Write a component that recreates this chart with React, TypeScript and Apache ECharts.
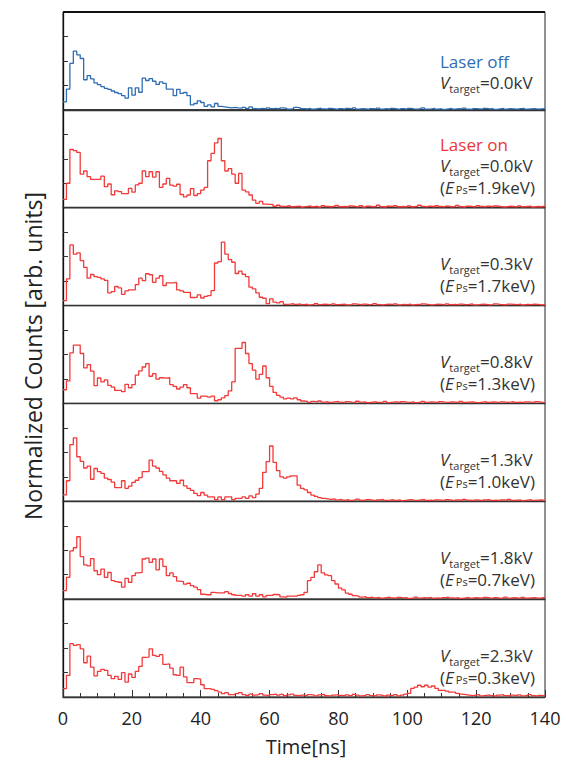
import React, { useEffect, useRef } from 'react';
import * as echarts from 'echarts';

// ---------------- data (normalized counts, 1 ns bins, 0..140 ns) ----------------
const timeMin = 0;
const timeMax = 140;
const xTickStep = 20;

const countsLaserOff = [
  0.33, 0.85, 1.90, 2.40, 2.25, 2.10, 1.23, 1.40, 1.27, 1.10,
  1.03, 0.95, 0.88, 0.84, 0.77, 0.71, 0.66, 0.58, 0.48, 0.90,
  0.60, 0.90, 0.72, 1.30, 1.20, 1.28, 1.17, 1.04, 1.14, 1.08,
  0.85, 0.85, 0.58, 0.84, 0.67, 0.71, 0.58, 0.20, 0.26, 0.37,
  0.30, 0.14, 0.20, 0.12, 0.26, 0.14, 0.12, 0.10, 0.08, 0.10,
  0.08, 0.07, 0.10, 0.06, 0.12, 0.05, 0.04, 0.06, 0.04, 0.08,
  0.05, 0.06, 0.04, 0.08, 0.06, 0.03, 0.05, 0.10, 0.08, 0.05,
  0.04, 0.06, 0.03, 0.05, 0.07, 0.04, 0.03, 0.06, 0.04, 0.02,
  0.05, 0.03, 0.06, 0.04, 0.08, 0.03, 0.05, 0.04, 0.02, 0.05,
  0.04, 0.07, 0.03, 0.05, 0.03, 0.06, 0.04, 0.02, 0.05, 0.03,
  0.06, 0.04, 0.03, 0.05, 0.08, 0.03, 0.04, 0.06, 0.03, 0.05,
  0.02, 0.04, 0.06, 0.03, 0.05, 0.04, 0.07, 0.03, 0.02, 0.05,
  0.04, 0.03, 0.06, 0.04, 0.05, 0.02, 0.04, 0.06, 0.03, 0.05,
  0.04, 0.03, 0.05, 0.06, 0.03, 0.04, 0.05, 0.03, 0.04, 0.05,
];

const countsV00 = [
  0.34, 1.00, 2.38, 2.33, 2.26, 1.37, 1.50, 1.27, 1.16, 1.16,
  1.16, 1.29, 0.86, 0.97, 0.53, 0.69, 0.66, 0.58, 0.58, 0.79,
  0.64, 0.93, 1.00, 1.50, 1.27, 1.47, 1.25, 1.47, 0.83, 0.97,
  1.20, 0.92, 0.88, 0.96, 0.54, 0.44, 0.52, 0.78, 0.50, 0.58,
  0.72, 0.83, 1.92, 2.22, 2.65, 2.83, 1.92, 1.50, 1.60, 1.37,
  1.00, 1.40, 0.72, 0.65, 0.52, 0.31, 0.18, 0.26, 0.15, 0.14,
  0.14, 0.06, 0.10, 0.05, 0.06, 0.08, 0.04, 0.05, 0.06, 0.03,
  0.05, 0.07, 0.04, 0.06, 0.03, 0.08, 0.05, 0.04, 0.06, 0.09,
  0.04, 0.05, 0.03, 0.07, 0.05, 0.04, 0.08, 0.03, 0.06, 0.04,
  0.05, 0.10, 0.04, 0.03, 0.06, 0.05, 0.08, 0.04, 0.05, 0.03,
  0.07, 0.04, 0.06, 0.10, 0.05, 0.03, 0.06, 0.04, 0.08, 0.05,
  0.03, 0.06, 0.04, 0.05, 0.09, 0.04, 0.03, 0.06, 0.05, 0.04,
  0.08, 0.05, 0.03, 0.06, 0.04, 0.07, 0.05, 0.03, 0.04, 0.06,
  0.05, 0.03, 0.07, 0.04, 0.05, 0.06, 0.03, 0.05, 0.04, 0.06,
];

const countsV03 = [
  0.20, 1.09, 2.48, 2.10, 2.15, 1.84, 1.56, 1.12, 1.27, 1.18,
  1.15, 1.09, 1.03, 0.52, 0.57, 0.78, 0.72, 0.46, 0.60, 0.64,
  0.64, 0.86, 1.12, 1.02, 1.30, 1.26, 0.95, 1.12, 1.22, 0.82,
  0.93, 0.93, 0.95, 0.64, 0.60, 0.54, 0.54, 0.33, 0.34, 0.44,
  0.31, 0.38, 0.41, 0.61, 1.74, 1.80, 2.59, 2.10, 1.88, 1.77,
  1.31, 1.41, 1.28, 1.18, 0.75, 0.68, 0.52, 0.34, 0.30, 0.08,
  0.27, 0.14, 0.11, 0.16, 0.05, 0.06, 0.08, 0.05, 0.07, 0.04,
  0.06, 0.03, 0.05, 0.08, 0.04, 0.06, 0.05, 0.03, 0.07, 0.04,
  0.05, 0.06, 0.03, 0.04, 0.07, 0.05, 0.03, 0.06, 0.04, 0.05,
  0.08, 0.04, 0.03, 0.05, 0.06, 0.04, 0.07, 0.03, 0.05, 0.04,
  0.06, 0.03, 0.05, 0.04, 0.07, 0.05, 0.03, 0.04, 0.06, 0.05,
  0.03, 0.07, 0.04, 0.05, 0.03, 0.06, 0.04, 0.05, 0.07, 0.03,
  0.04, 0.06, 0.05, 0.03, 0.04, 0.07, 0.05, 0.04, 0.03, 0.06,
  0.05, 0.04, 0.06, 0.03, 0.05, 0.04, 0.06, 0.05, 0.03, 0.04,
];

const countsV08 = [
  0.56, 0.92, 2.07, 2.38, 2.38, 2.04, 1.45, 1.59, 1.32, 0.73,
  1.04, 0.88, 0.96, 0.74, 0.67, 0.53, 0.53, 0.48, 0.78, 0.64,
  0.77, 1.16, 1.33, 1.49, 1.63, 1.11, 1.22, 0.99, 1.05, 1.03,
  1.05, 0.77, 0.70, 0.59, 0.67, 0.77, 0.64, 0.40, 0.40, 0.22,
  0.30, 0.29, 0.26, 0.30, 0.11, 0.15, 0.23, 0.32, 0.51, 0.88,
  2.25, 2.25, 2.49, 2.04, 1.63, 1.36, 0.99, 1.19, 1.53, 1.05,
  0.70, 0.45, 0.33, 0.26, 0.19, 0.22, 0.19, 0.23, 0.15, 0.10,
  0.08, 0.04, 0.08, 0.06, 0.10, 0.05, 0.07, 0.04, 0.06, 0.08,
  0.05, 0.03, 0.07, 0.05, 0.04, 0.09, 0.05, 0.06, 0.03, 0.05,
  0.07, 0.04, 0.05, 0.08, 0.03, 0.05, 0.06, 0.04, 0.07, 0.05,
  0.04, 0.06, 0.03, 0.05, 0.08, 0.04, 0.06, 0.05, 0.03, 0.07,
  0.05, 0.04, 0.06, 0.05, 0.03, 0.08, 0.04, 0.05, 0.06, 0.04,
  0.03, 0.05, 0.07, 0.04, 0.06, 0.05, 0.03, 0.06, 0.04, 0.05,
  0.07, 0.04, 0.05, 0.03, 0.06, 0.05, 0.04, 0.07, 0.05, 0.04,
];

const countsV13 = [
  0.26, 0.84, 2.32, 2.59, 1.82, 1.63, 1.36, 1.44, 0.90, 1.34,
  1.21, 1.14, 0.95, 0.89, 0.78, 0.56, 0.56, 0.84, 0.53, 0.62,
  0.77, 0.86, 0.97, 1.21, 1.21, 1.68, 1.44, 1.36, 1.22, 1.08,
  0.95, 0.84, 0.84, 0.73, 0.86, 0.63, 0.53, 0.45, 0.32, 0.23,
  0.36, 0.25, 0.18, 0.18, 0.07, 0.18, 0.07, 0.18, 0.18, 0.07,
  0.12, 0.12, 0.18, 0.12, 0.22, 0.15, 0.29, 0.53, 1.18, 1.62,
  2.26, 1.59, 1.25, 1.00, 0.95, 1.00, 1.04, 1.04, 0.66, 0.53,
  0.47, 0.36, 0.25, 0.20, 0.15, 0.12, 0.10, 0.08, 0.10, 0.06,
  0.08, 0.05, 0.07, 0.04, 0.06, 0.09, 0.05, 0.04, 0.07, 0.05,
  0.03, 0.06, 0.08, 0.04, 0.05, 0.07, 0.04, 0.06, 0.03, 0.05,
  0.07, 0.05, 0.04, 0.06, 0.08, 0.04, 0.05, 0.03, 0.06, 0.05,
  0.04, 0.07, 0.05, 0.03, 0.06, 0.04, 0.08, 0.05, 0.04, 0.06,
  0.05, 0.03, 0.06, 0.07, 0.04, 0.05, 0.03, 0.06, 0.05, 0.08,
  0.04, 0.05, 0.06, 0.03, 0.05, 0.07, 0.04, 0.05, 0.06, 0.04,
];

const countsV18 = [
  0.35, 0.89, 1.97, 2.10, 2.55, 1.74, 1.40, 1.36, 1.66, 1.16,
  1.00, 1.23, 0.89, 1.09, 0.76, 0.72, 0.69, 0.49, 0.85, 0.69,
  0.96, 1.07, 1.09, 1.64, 1.68, 1.50, 1.64, 1.20, 1.64, 1.34,
  0.96, 1.07, 0.92, 0.74, 0.72, 0.61, 0.65, 0.55, 0.49, 0.39,
  0.20, 0.18, 0.18, 0.28, 0.26, 0.26, 0.26, 0.31, 0.23, 0.18,
  0.15, 0.15, 0.12, 0.18, 0.12, 0.22, 0.12, 0.18, 0.09, 0.15,
  0.15, 0.19, 0.18, 0.09, 0.08, 0.12, 0.12, 0.12, 0.15, 0.18,
  0.28, 0.76, 0.89, 1.12, 1.40, 1.07, 0.99, 0.96, 0.76, 0.62,
  0.45, 0.38, 0.25, 0.20, 0.14, 0.12, 0.08, 0.10, 0.06, 0.08,
  0.05, 0.07, 0.04, 0.06, 0.08, 0.05, 0.04, 0.07, 0.05, 0.06,
  0.03, 0.05, 0.08, 0.04, 0.06, 0.05, 0.07, 0.04, 0.05, 0.03,
  0.06, 0.08, 0.05, 0.04, 0.06, 0.03, 0.05, 0.07, 0.04, 0.06,
  0.05, 0.04, 0.07, 0.05, 0.03, 0.06, 0.04, 0.05, 0.08, 0.04,
  0.06, 0.05, 0.03, 0.07, 0.04, 0.05, 0.06, 0.04, 0.05, 0.07,
];

const countsV23 = [
  0.34, 0.88, 2.18, 2.11, 2.14, 1.97, 1.40, 1.67, 1.22, 0.86,
  1.05, 1.13, 1.09, 0.88, 0.75, 0.84, 0.72, 1.00, 0.61, 0.94,
  0.80, 1.05, 1.25, 1.62, 1.63, 1.97, 1.70, 1.66, 1.73, 1.33,
  1.35, 1.18, 0.91, 0.88, 1.22, 0.82, 0.59, 0.59, 0.75, 0.73,
  0.50, 0.34, 0.34, 0.31, 0.26, 0.20, 0.14, 0.18, 0.10, 0.10,
  0.14, 0.18, 0.10, 0.07, 0.12, 0.08, 0.10, 0.14, 0.08, 0.06,
  0.10, 0.12, 0.08, 0.11, 0.06, 0.09, 0.12, 0.07, 0.05, 0.08,
  0.06, 0.10, 0.08, 0.05, 0.09, 0.11, 0.06, 0.04, 0.08, 0.10,
  0.07, 0.05, 0.09, 0.06, 0.11, 0.08, 0.05, 0.07, 0.10, 0.06,
  0.05, 0.09, 0.07, 0.04, 0.08, 0.06, 0.10, 0.05, 0.08, 0.12,
  0.15, 0.35, 0.40, 0.48, 0.42, 0.48, 0.40, 0.45, 0.35, 0.27,
  0.27, 0.24, 0.20, 0.20, 0.15, 0.12, 0.10, 0.08, 0.06, 0.08,
  0.10, 0.05, 0.07, 0.09, 0.06, 0.04, 0.08, 0.10, 0.06, 0.05,
  0.08, 0.06, 0.09, 0.05, 0.07, 0.10, 0.06, 0.04, 0.07, 0.05,
];

const panelCounts = [countsLaserOff, countsV00, countsV03, countsV08, countsV13, countsV18, countsV23];
const panelHeaders = ['Laser off', 'Laser on', '', '', '', '', ''];
const panelVtarget = ['0.0', '0.0', '0.3', '0.8', '1.3', '1.8', '2.3'];
const panelEps = ['', '1.9', '1.7', '1.3', '1.0', '0.7', '0.3'];
const panelColors = ['#2f6db3', '#f23a3a', '#f23a3a', '#f23a3a', '#f23a3a', '#f23a3a', '#f23a3a'];
const headerColors = ['#2f6db3', '#ee3535', '', '', '', '', ''];

// ---------------- layout ----------------
const W = 566;
const H = 763;
const PLOT_LEFT = 63;
const PLOT_RIGHT = 545;
const PLOT_TOP = 12;
const PLOT_BOTTOM = 697;
const FONT = "'Open Sans', 'Noto Sans', sans-serif";
const TEXT_X = 440;

export default function App() {
  const ref = useRef<HTMLDivElement>(null);

  useEffect(() => {
    if (!ref.current) return;
    const chart = echarts.init(ref.current, undefined, { renderer: 'svg' });
    const n = panelCounts.length;
    const ph = (PLOT_BOTTOM - PLOT_TOP) / n;

    const grid: any[] = [];
    const xAxis: any[] = [];
    const yAxis: any[] = [];
    const series: any[] = [];
    const graphic: any[] = [];

    for (let i = 0; i < n; i++) {
      const last = i === n - 1;
      grid.push({
        left: PLOT_LEFT,
        width: PLOT_RIGHT - PLOT_LEFT,
        top: PLOT_TOP + i * ph,
        height: ph,
        show: true,
        borderColor: '#222',
        borderWidth: 1,
        backgroundColor: 'transparent',
      });
      xAxis.push({
        gridIndex: i,
        type: 'value',
        min: timeMin,
        max: timeMax,
        interval: xTickStep,
        axisLine: { show: true, onZero: false, lineStyle: { color: '#333', width: 1.3 } },
        axisTick: { show: last, inside: true, length: 7, lineStyle: { color: '#333', width: 1 } },
        minorTick: { show: last, splitNumber: 4, length: 4, lineStyle: { color: '#333', width: 1 } },
        axisLabel: { show: last, fontSize: 18, color: '#222', fontFamily: FONT, margin: 12 },
        splitLine: { show: false },
        minorSplitLine: { show: false },
      });
      yAxis.push({
        gridIndex: i,
        type: 'value',
        min: 0,
        max: 4,
        interval: 1,
        axisLine: { show: true, lineStyle: { color: '#111', width: 1.3 } },
        axisTick: { show: true, inside: true, length: 5, lineStyle: { color: '#333', width: 1 } },
        axisLabel: { show: false },
        splitLine: { show: false },
      });
      const vals = panelCounts[i];
      const data = vals.map((v, k) => [timeMin + k, v]);
      data.push([timeMin + vals.length, vals[vals.length - 1]]);
      series.push({
        type: 'line',
        xAxisIndex: i,
        yAxisIndex: i,
        step: 'end',
        symbol: 'none',
        showSymbol: false,
        data,
        lineStyle: { color: panelColors[i], width: 1.3 },
        z: 3,
      });

      const b = PLOT_TOP + (i + 1) * ph;
      const mainRich = {
        m: { fontSize: 17, fontFamily: FONT, fill: '#333', lineHeight: 18 },
        mi: { fontSize: 17, fontFamily: FONT, fill: '#333', lineHeight: 18, fontStyle: 'italic' },
        sub: { fontSize: 11, fontFamily: FONT, fill: '#333', lineHeight: 11, verticalAlign: 'middle', padding: [12, 0, 0, 0] },
      };
      const eRich = {
        m: { fontSize: 17, fontFamily: FONT, fill: '#333', lineHeight: 16 },
        mi: { fontSize: 17, fontFamily: FONT, fill: '#333', lineHeight: 16, fontStyle: 'italic' },
        sub: { fontSize: 11, fontFamily: FONT, fill: '#333', lineHeight: 11, verticalAlign: 'middle', padding: [4, 0, 0, 2] },
      };
      let vY: number;
      const eY = b - 20;
      if (i === 0) {
        vY = b - 27;
        graphic.push({
          type: 'text', x: TEXT_X, y: b - 48,
          style: { text: panelHeaders[i], fontSize: 17, fontFamily: FONT, fill: headerColors[i], align: 'left', verticalAlign: 'middle' },
        });
      } else if (i === 1) {
        vY = b - 42;
        graphic.push({
          type: 'text', x: TEXT_X, y: b - 63,
          style: { text: panelHeaders[i], fontSize: 17, fontFamily: FONT, fill: headerColors[i], align: 'left', verticalAlign: 'middle' },
        });
      } else {
        vY = b - 42;
      }
      graphic.push({
        type: 'text', x: TEXT_X, y: vY,
        style: {
          text: `{mi|V}{sub|target}{m|=${panelVtarget[i]}kV}`,
          rich: mainRich, align: 'left', verticalAlign: 'middle', fontSize: 17, fontFamily: FONT, fill: '#333',
        },
      });
      if (panelEps[i]) {
        graphic.push({
          type: 'text', x: TEXT_X, y: eY,
          style: {
            text: `{m|(}{mi|E}{sub|Ps}{m|=${panelEps[i]}keV)}`,
            rich: eRich, align: 'left', verticalAlign: 'middle', fontSize: 17, fontFamily: FONT, fill: '#333',
          },
        });
      }
    }

    graphic.push({
      type: 'text', x: 33, y: 356, rotation: Math.PI / 2,
      style: { text: 'Normalized Counts [arb. units]', fontSize: 23, fontFamily: FONT, fill: '#222', align: 'center', verticalAlign: 'middle' },
    });
    graphic.push({
      type: 'text', x: 306, y: 746,
      style: { text: 'Time[ns]', fontSize: 20, fontFamily: FONT, fill: '#222', align: 'center', verticalAlign: 'middle' },
    });
    // thicker top frame line
    graphic.push({
      type: 'line', shape: { x1: PLOT_LEFT, y1: PLOT_TOP, x2: PLOT_RIGHT, y2: PLOT_TOP },
      style: { stroke: '#111', lineWidth: 2 }, z: 10,
    });

    chart.setOption({
      animation: false,
      backgroundColor: '#fff',
      grid,
      xAxis,
      yAxis,
      series,
      graphic,
    });
    return () => chart.dispose();
  }, []);

  return <div ref={ref} style={{ position: 'absolute', left: 0, top: 0, width: W, height: H }} />;
}
